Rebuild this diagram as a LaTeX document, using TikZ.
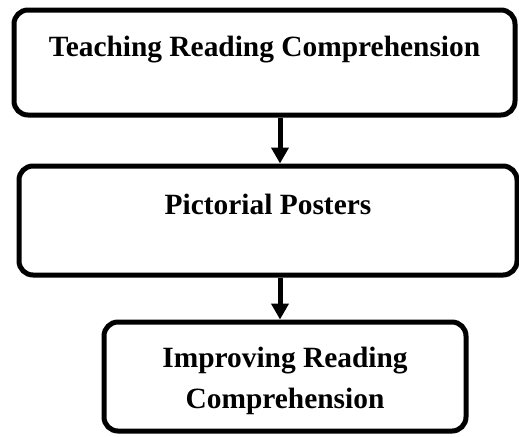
\documentclass[tikz,border=0pt]{standalone}
\usepackage{fontspec}
\setmainfont{Liberation Serif}
\usetikzlibrary{arrows.meta}
\begin{document}
\begin{tikzpicture}[x=0.5pt, y=-0.5pt, >={Triangle[width=8.5pt,length=8pt]},
	box/.style={draw, line width=2.5pt, rounded corners=7pt, align=center, inner sep=0pt,
		font=\fontsize{14.7}{20.5}\selectfont\bfseries},
	toptext/.style={text height=10pt, text depth=16pt}
]
	\useasboundingbox (0,0) rectangle (519,436);
	\node[box, toptext, minimum width=250.5pt, minimum height=52.5pt] (teach) at (264.5,62.5) {Teaching Reading Comprehension};
	\node[box, toptext, minimum width=249pt, minimum height=54.5pt] (poster) at (268,220.5) {Pictorial Posters};
	\node[box, text height=35.5pt, minimum width=181pt, minimum height=54.5pt] (improve) at (285,376.5) {Improving Reading\\Comprehension};
	\coordinate (arrx) at (280,0);
	\draw[->, line width=2.5pt] (teach.south -| arrx) -- (poster.north -| arrx);
	\draw[->, line width=2.5pt] (poster.south -| arrx) -- (improve.north -| arrx);
\end{tikzpicture}
\end{document}
